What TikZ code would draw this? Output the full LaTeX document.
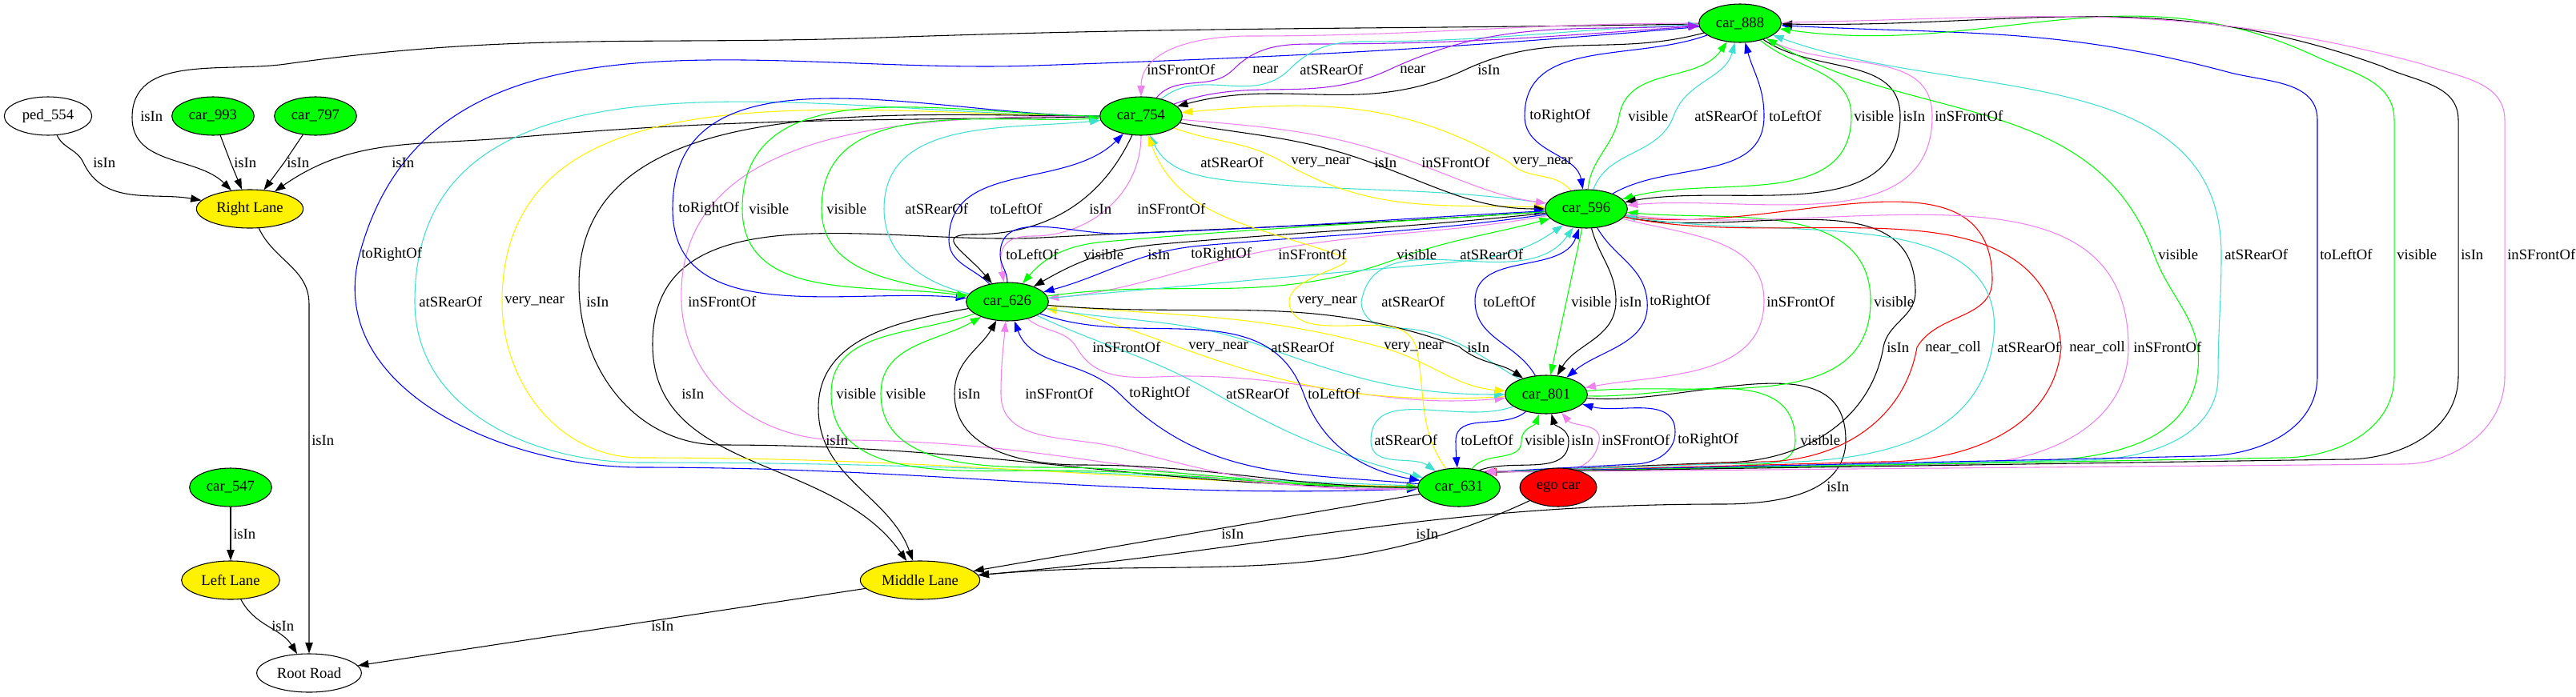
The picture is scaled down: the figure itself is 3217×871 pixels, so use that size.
\documentclass[tikz,border=0pt]{standalone}
\usepackage{fontspec}
\setmainfont{Liberation Serif}
\usetikzlibrary{arrows.meta,shapes.geometric}
\definecolor{grn}{HTML}{00FF00}
\definecolor{trq}{HTML}{40E0D0}
\definecolor{vio}{HTML}{EE82EE}
\definecolor{pur}{HTML}{A020F0}
\pgfdeclarelayer{bg}
\pgfdeclarelayer{edges}
\pgfsetlayers{bg,edges,main}

\begin{document}
\begin{tikzpicture}[x=0.75pt, y=0.75pt,
  obj/.style={ellipse, draw, line width=0.8pt, minimum height=36pt, inner sep=0pt, font=\fontsize{14}{16}\selectfont},
  car/.style={obj, fill=grn, minimum width=77pt},
  lane/.style={obj, fill=yellow},
  lbl/.style={anchor=west, inner sep=0pt, font=\fontsize{14}{16}\selectfont},
  rel/.style={-{Triangle[length=10pt,width=7pt]}, line width=0.8pt}]
  \begin{pgfonlayer}{bg}
    \fill[white] (0,0) rectangle (3217,-871);
  \end{pgfonlayer}
  \useasboundingbox (0,0) rectangle (3217,-871);

  \node[car] (c888) at (2173,-29) {car\_888};
  \node[obj, fill=white, minimum width=82pt] (ped) at (60,-145) {ped\_554};
  \node[car] (c993) at (266,-145) {car\_993};
  \node[car] (c797) at (394,-145) {car\_797};
  \node[car] (c754) at (1425,-145) {car\_754};
  \node[lane, minimum width=100pt] (rlane) at (312,-261) {Right Lane};
  \node[car] (c596) at (1981,-261) {car\_596};
  \node[car] (c626) at (1258,-377) {car\_626};
  \node[car] (c801) at (1931,-493) {car\_801};
  \node[car] (c547) at (288,-609) {car\_547};
  \node[car] (c631) at (1822,-609) {car\_631};
  \node[obj, fill=red, minimum width=72pt] (ego) at (1946,-609) {ego car};
  \node[lane, minimum width=92pt] (llane) at (288,-725) {Left Lane};
  \node[lane, minimum width=112pt] (mlane) at (1149,-725) {Middle Lane};
  \node[obj, fill=white, minimum width=98pt] (root) at (386,-841) {Root Road};

  \node[lbl] (l01) at (1432,-87) {inSFrontOf};
  \node[lbl] (l02) at (1564,-87) {near};
  \node[lbl] (l03) at (1623,-87) {atSRearOf};
  \node[lbl] (l04) at (1748,-87) {near};
  \node[lbl] (l05) at (1845,-87) {isIn};
  \node[lbl] (l06) at (175,-145) {isIn};
  \node[lbl] (l07) at (1910,-145) {toRightOf};
  \node[lbl] (l08) at (2033,-145) {visible};
  \node[lbl] (l09) at (2116,-145) {atSRearOf};
  \node[lbl] (l10) at (2209,-145) {toLeftOf};
  \node[lbl] (l11) at (2315,-145) {visible};
  \node[lbl] (l12) at (2376,-145) {isIn};
  \node[lbl] (l13) at (2416,-145) {inSFrontOf};
  \node[lbl] (l14) at (116,-203) {isIn};
  \node[lbl] (l15) at (292,-203) {isIn};
  \node[lbl] (l16) at (358,-203) {isIn};
  \node[lbl] (l17) at (489,-203) {isIn};
  \node[lbl] (l18) at (1499,-203) {atSRearOf};
  \node[lbl] (l19) at (1612,-203) {very\_near};
  \node[lbl] (l20) at (1716,-203) {isIn};
  \node[lbl] (l21) at (1775,-203) {inSFrontOf};
  \node[lbl] (l22) at (1889,-203) {very\_near};
  \node[lbl] (l23) at (847,-261) {toRightOf};
  \node[lbl] (l24) at (935,-261) {visible};
  \node[lbl] (l25) at (1032,-261) {visible};
  \node[lbl] (l26) at (1130,-261) {atSRearOf};
  \node[lbl] (l27) at (1236,-261) {toLeftOf};
  \node[lbl] (l28) at (1360,-261) {isIn};
  \node[lbl] (l29) at (1420,-261) {inSFrontOf};
  \node[lbl] (l30) at (451,-318) {toRightOf};
  \node[lbl] (l31) at (1256,-318) {toLeftOf};
  \node[lbl] (l32) at (1353,-318) {visible};
  \node[lbl] (l33) at (1433,-318) {isIn};
  \node[lbl] (l34) at (1487,-318) {toRightOf};
  \node[lbl] (l35) at (1596,-318) {inSFrontOf};
  \node[lbl] (l36) at (1744,-318) {visible};
  \node[lbl] (l37) at (1823,-318) {atSRearOf};
  \node[lbl] (l38) at (2695,-318) {visible};
  \node[lbl] (l39) at (2778,-318) {atSRearOf};
  \node[lbl] (l40) at (2897,-318) {toLeftOf};
  \node[lbl] (l41) at (2993,-318) {visible};
  \node[lbl] (l42) at (3073,-318) {isIn};
  \node[lbl] (l43) at (3131,-318) {inSFrontOf};
  \node[lbl] (l44) at (523,-377) {atSRearOf};
  \node[lbl] (l45) at (630,-377) {very\_near};
  \node[lbl] (l46) at (732,-377) {isIn};
  \node[lbl] (l47) at (859,-377) {inSFrontOf};
  \node[lbl] (l48) at (1620,-377) {very\_near};
  \node[lbl] (l49) at (1725,-377) {atSRearOf};
  \node[lbl] (l50) at (1852,-377) {toLeftOf};
  \node[lbl] (l51) at (1962,-377) {visible};
  \node[lbl] (l52) at (2022,-377) {isIn};
  \node[lbl] (l53) at (2060,-377) {toRightOf};
  \node[lbl] (l54) at (2206,-377) {inSFrontOf};
  \node[lbl] (l55) at (2340,-377) {visible};
  \node[lbl] (l56) at (1364,-434) {inSFrontOf};
  \node[lbl] (l57) at (1484,-434) {very\_near};
  \node[lbl] (l58) at (1587,-434) {atSRearOf};
  \node[lbl] (l59) at (1728,-434) {very\_near};
  \node[lbl] (l60) at (1832,-434) {isIn};
  \node[lbl] (l61) at (2356,-434) {isIn};
  \node[lbl] (l62) at (2404,-434) {near\_coll};
  \node[lbl] (l63) at (2494,-434) {atSRearOf};
  \node[lbl] (l64) at (2584,-434) {near\_coll};
  \node[lbl] (l65) at (2664,-434) {inSFrontOf};
  \node[lbl] (l66) at (851,-492) {isIn};
  \node[lbl] (l67) at (1044,-492) {visible};
  \node[lbl] (l68) at (1106,-492) {visible};
  \node[lbl] (l69) at (1196,-492) {isIn};
  \node[lbl] (l70) at (1280,-492) {inSFrontOf};
  \node[lbl] (l71) at (1410,-492) {toRightOf};
  \node[lbl] (l72) at (1531,-492) {atSRearOf};
  \node[lbl] (l73) at (1633,-492) {toLeftOf};
  \node[lbl] (l74) at (389,-550) {isIn};
  \node[lbl] (l75) at (1031,-550) {isIn};
  \node[lbl] (l76) at (1716,-550) {atSRearOf};
  \node[lbl] (l77) at (1824,-550) {toLeftOf};
  \node[lbl] (l78) at (1904,-550) {visible};
  \node[lbl] (l79) at (1962,-550) {isIn};
  \node[lbl] (l80) at (2000,-550) {inSFrontOf};
  \node[lbl] (l81) at (2095,-550) {toRightOf};
  \node[lbl] (l82) at (2248,-550) {visible};
  \node[lbl] (l83) at (2281,-608) {isIn};
  \node[lbl] (l84) at (291,-667) {isIn};
  \node[lbl] (l85) at (1525,-667) {isIn};
  \node[lbl] (l86) at (1768,-667) {isIn};
  \node[lbl] (l87) at (339,-782) {isIn};
  \node[lbl] (l88) at (813,-782) {isIn};

  \begin{pgfonlayer}{edges}
  \draw[rel] (ped) to[out=-65,in=115] (104,-203) to[out=-65,in=170] (rlane);
  \draw[rel] (c993) -- (288,-203) -- (rlane);
  \draw[rel] (c797) -- (355,-203) -- (rlane);
  \draw[rel] (c754) to[out=181,in=5] (640,-172) to[out=185,in=35] (rlane);
  \draw[rel] (c888) to[out=181,in=2] (1100,-47) to[out=182,in=8] (357,-80) to[out=188,in=90] (165,-147) to[out=-90,in=135] (rlane);
  \draw[rel] (rlane) to[out=-65,in=90] (386,-380) -- (root);
  \draw[rel] (c547) -- (llane);
  \draw[rel] (llane) to[out=-62,in=122] (root);
  \draw[rel] (mlane) -- (root);

  \draw[rel] (c631) -- (mlane);
  \draw[rel] (ego) to[out=205,in=5] (mlane);
  \draw[rel] (c801) to[out=-5,in=90] (2305,-550) to[out=-90,in=0] (2150,-630) to[out=180,in=5] (mlane);
  \draw[rel] (c626) to[out=190,in=90] (1022,-510) to[out=-90,in=110] (mlane);
  \draw[rel] (c596) to[out=184,in=3] (1300,-297) to[out=183,in=90] (815,-430) to[out=-90,in=125] (mlane);

  \draw[rel, trq] (c754) to[out=180,in=90] (518,-377) to[out=-90,in=180] (800,-578) to[out=0,in=178] (c631);
  \draw[rel, yellow] (c754) to[out=180,in=90] (627,-377) to[out=-90,in=180] (800,-572) to[out=0,in=179] (c631);
  \draw[rel] (c754) to[out=180,in=95] (724,-377) to[out=-85,in=180] (900,-556) to[out=0,in=180] (c631);
  \draw[rel, vio] (c754) to[out=180,in=92] (851,-377) to[out=-88,in=180] (1050,-550) to[out=0,in=181] (c631);
  \draw[rel, blue] (c888) to[out=185,in=2] (1291,-82) to[out=182,in=75] (449,-318) to[out=-105,in=180] (800,-584) to[out=0,in=182] (c631);

  \draw[rel, vio] (c888) to[out=180,in=0] (1560,-45) to[out=180,in=90] (c754);
  \draw[rel, pur] (c754) to[out=50,in=225] (1540,-87) to[out=45,in=180] (1640,-55) to[out=0,in=184] (c888);
  \draw[rel, trq] (c754) to[out=40,in=225] (1610,-87) to[out=45,in=180] (1700,-52) to[out=0,in=182] (c888);
  \draw[rel, pur] (c754) to[out=20,in=205] (1735,-87) to[out=25,in=183] (c888);
  \draw[rel] (c888) to[out=195,in=25] (1830,-87) to[out=205,in=15] (c754);

  \draw[rel, blue] (c888) to[out=200,in=90] (1904,-145) to[out=-90,in=100] (c596);
  \draw[rel, grn] (c596) to[out=85,in=-100] (2022,-145) to[out=80,in=235] (c888);
  \draw[rel, trq] (c596) to[out=70,in=-110] (2090,-145) to[out=70,in=255] (c888);
  \draw[rel, blue] (c596) to[out=30,in=-90] (2203,-145) to[out=90,in=285] (c888);
  \draw[rel, grn] (c888) to[out=-40,in=90] (2312,-145) to[out=-90,in=15] (c596);
  \draw[rel] (c888) to[out=-35,in=90] (2373,-145) to[out=-90,in=10] (c596);
  \draw[rel, vio] (c888) to[out=-30,in=90] (2413,-145) to[out=-90,in=5] (c596);

  \draw[rel, trq] (c596) to[out=172,in=-5] (1560,-228) to[out=175,in=-65] (c754);
  \draw[rel, yellow] (c754) to[out=-20,in=150] (1603,-203) to[out=-30,in=178] (c596);
  \draw[rel] (c754) to[out=-10,in=160] (1712,-203) to[out=-20,in=180] (c596);
  \draw[rel, vio] (c754) to[out=-5,in=160] (1766,-203) to[out=-20,in=172] (c596);
  \draw[rel, yellow] (c596) to[out=130,in=-45] (1885,-203) to[out=150,in=5] (c754);

  \draw[rel, blue] (c754) to[out=180,in=90] (840,-261) to[out=-90,in=175] (c626);
  \draw[rel, grn] (c754) to[out=180,in=90] (927,-261) to[out=-90,in=172] (c626);
  \draw[rel, grn] (c626) to[out=170,in=-90] (1026,-261) to[out=90,in=183] (c754);
  \draw[rel, trq] (c626) to[out=168,in=-90] (1104,-261) to[out=90,in=186] (c754);
  \draw[rel, blue] (c626) to[out=135,in=-90] (1185,-300) to[out=90,in=225] (c754);
  \draw[rel] (c754) to[out=-115,in=0] (1215,-293) to[out=180,in=130,looseness=2] (c626);
  \draw[rel, vio] (c754) to[out=-90,in=0] (1290,-295) to[out=180,in=100,looseness=1.5] (c626);

  \draw[rel, blue] (c626) to[out=90,in=-90] (1249,-318) to[out=90,in=182] (1400,-292) to[out=2,in=183] (c596);
  \draw[rel, grn] (c596) to[out=184,in=5] (1380,-302) to[out=185,in=50] (c626);
  \draw[rel] (c596) to[out=186,in=5] (1450,-305) to[out=185,in=30] (c626);
  \draw[rel, blue] (c596) to[out=188,in=5] (1500,-307) to[out=185,in=15] (c626);
  \draw[rel, vio] (c596) to[out=190,in=10] (1590,-312) to[out=190,in=5] (c626);
  \draw[rel, grn] (c626) to[out=8,in=200] (1740,-325) to[out=20,in=195] (c596);
  \draw[rel, trq] (c626) to[out=5,in=185] (1790,-330) to[out=5,in=215] (c596);

  \draw[rel, trq] (c801) to[out=150,in=0] (1740,-410) to[out=180,in=-90] (1700,-377) to[out=80,in=235] (c596);
  \draw[rel, blue] (c801) to[out=120,in=-90] (1842,-376) to[out=90,in=250] (c596);
  \draw[rel, grn] (c596) -- (c801);
  \draw[rel] (c596) to[out=-75,in=90] (2018,-376) to[out=-90,in=60] (c801);
  \draw[rel, blue] (c596) to[out=-60,in=95] (2057,-376) to[out=-85,in=40] (c801);
  \draw[rel, vio] (c596) to[out=-15,in=90] (2203,-376) to[out=-90,in=10] (c801);
  \draw[rel, grn] (c801) to[out=5,in=-90] (2336,-376) to[out=90,in=-5] (c596);

  \draw[rel, vio] (c626) to[out=-40,in=120] (1345,-435) to[out=-60,in=180] (1480,-470) to[out=0,in=185] (c801);
  \draw[rel, yellow] (c801) to[out=183,in=-20] (1470,-433) to[out=160,in=-10] (c626);
  \draw[rel, trq] (c626) to[out=-10,in=160] (1578,-433) to[out=-20,in=180] (c801);
  \draw[rel, yellow] (c626) to[out=-5,in=165] (1722,-433) to[out=-15,in=175] (c801);
  \draw[rel] (c626) to[out=-5,in=160] (1822,-433) to[out=-40,in=145] (c801);
  \draw[rel, yellow] (c631) to[out=125,in=-80] (1770,-440) to[out=100,in=-10] (1640,-405) to[out=170,in=-90] (1610,-377) to[out=90,in=-20] (1675,-320) to[out=160,in=-70] (c754);

  \draw[rel, grn] (c626) to[out=200,in=90] (1038,-492) to[out=-90,in=180] (1300,-588) to[out=0,in=180] (c631);
  \draw[rel, grn] (c631) to[out=180,in=0] (1300,-584) to[out=180,in=-90] (1100,-492) to[out=90,in=210] (c626);
  \draw[rel] (c631) to[out=180,in=0] (1350,-581) to[out=180,in=-90] (1192,-492) to[out=90,in=240] (c626);
  \draw[rel, vio] (c631) to[out=182,in=-15] (1400,-560) to[out=165,in=-90] (1250,-492) to[out=90,in=265] (c626);
  \draw[rel, blue] (c631) to[out=175,in=-45] (1398,-492) to[out=135,in=-70] (c626);
  \draw[rel, trq] (c626) to[out=-25,in=150] (1518,-492) to[out=-30,in=165] (c631);
  \draw[rel, blue] (c626) to[out=-20,in=110] (1628,-492) to[out=-70,in=170] (c631);

  \draw[rel, trq] (c801) to[out=200,in=90] (1712,-551) to[out=-90,in=145] (c631);
  \draw[rel, blue] (c801) to[out=220,in=90] (1818,-551) to[out=-90,in=95] (c631);
  \draw[rel, grn] (c631) to[out=55,in=-90] (1900,-551) to[out=90,in=250] (c801);
  \draw[rel] (c631.40) to[out=20,in=-90] (1959,-551) to[out=90,in=-75] (c801);
  \draw[rel, vio] (c631.32) to[out=5,in=-100] (1997,-551) to[out=80,in=-50] (c801);
  \draw[rel, blue] (c631.30) -- (2040,-580) to[out=0,in=-90] (2092,-540) to[out=90,in=-15] (c801);
  \draw[rel, grn] (c801) to[out=-2,in=90] (2242,-551) to[out=-90,in=0] (2150,-579) -- (c631.30);

  \draw[rel] (c596) to[out=-12,in=90] (2392,-365) to[out=-90,in=80] (2352,-434) to[out=-100,in=0] (2150,-578) -- (c631.30);
  \draw[rel, red] (c596) to[out=-10,in=90] (2488,-350) to[out=-90,in=60] (2394,-434) to[out=-100,in=0] (2200,-577) -- (c631.29);
  \draw[rel, trq] (c631.31) -- (2200,-578) to[out=0,in=-100] (2488,-434) to[out=80,in=-10] (c596);
  \draw[rel, red] (c596) to[out=-12,in=95] (2574,-434) to[out=-95,in=0] (2350,-577) -- (c631.29);
  \draw[rel, vio] (c596) to[out=-8,in=90] (2658,-434) to[out=-90,in=0] (2450,-580) -- (c631.33);

  \draw[rel, grn] (c631.30) -- (2500,-577) to[out=0,in=-95] (2745,-460) to[out=85,in=-70] (2690,-318) to[out=110,in=-30] (c888);
  \draw[rel, trq] (c631.30) -- (2600,-575) to[out=0,in=-90] (2770,-470) to[out=90,in=-90] (2774,-318) to[out=90,in=-20] (c888);
  \draw[rel, blue] (c631.30) -- (2750,-570) to[out=0,in=-90] (2894,-470) -- (2894,-150) to[out=90,in=-15] (2782,-90) to[out=165,in=-3] (c888);
  \draw[rel, grn] (c631.30) -- (2850,-572) to[out=0,in=-90] (2990,-470) -- (2990,-150) to[out=90,in=-25] (2891,-70) to[out=155,in=-8] (c888);
  \draw[rel] (c631.30) -- (2930,-574) to[out=0,in=-90] (3070,-470) -- (3070,-150) to[out=90,in=-25] (2975,-83) to[out=160,in=-1] (c888);
  \draw[rel, vio] (c888) to[out=1,in=165] (3025,-80) to[out=-20,in=90] (3128,-150) -- (3128,-470) to[out=-90,in=0] (3000,-580) -- (c631.30);
  \end{pgfonlayer}
\end{tikzpicture}
\end{document}
